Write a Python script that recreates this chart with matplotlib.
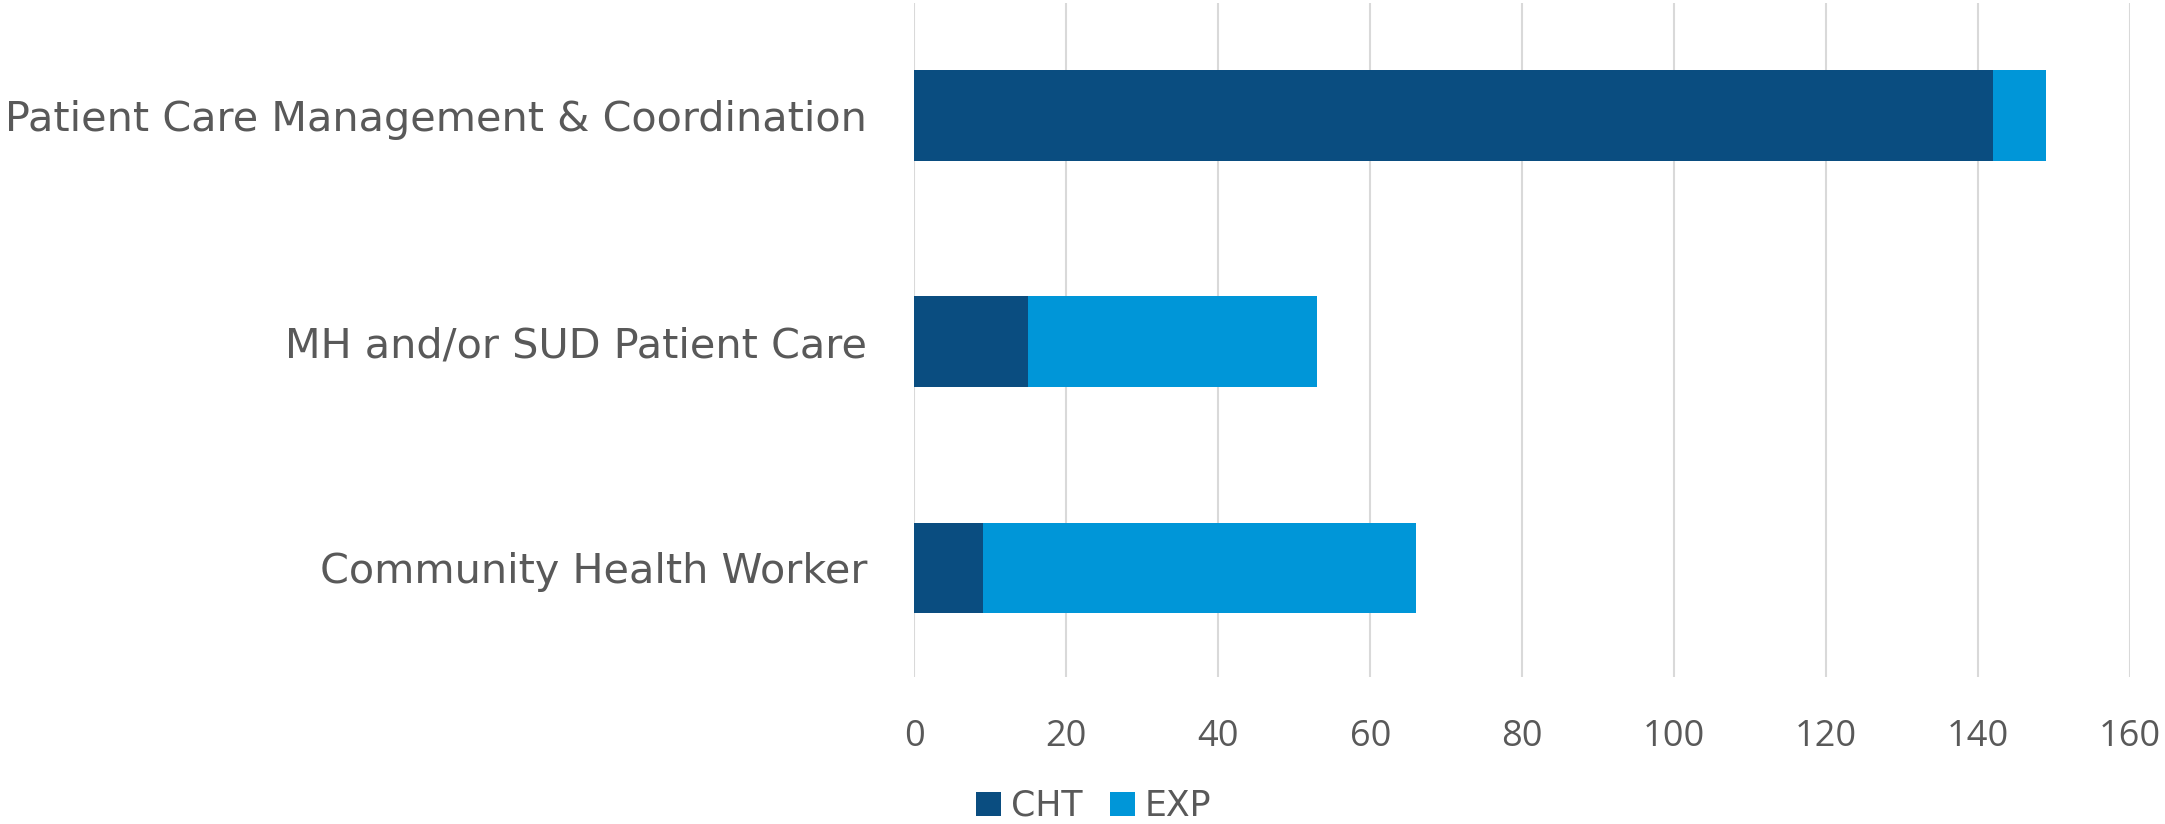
import matplotlib.pyplot as plt
import numpy as np

# data
categories = ['Patient Care Management & Coordination',
              'MH and/or SUD Patient Care',
              'Community Health Worker']
cht = [142, 15, 9]
exp = [7, 38, 57]
xticks = [0, 20, 40, 60, 80, 100, 120, 140, 160]

plt.rcParams['font.family'] = ['Open Sans', 'DejaVu Sans']
txt = '#595959'

fig = plt.figure(figsize=(21.65, 8.24), dpi=100)
ax = fig.add_axes([0.4224, 0.1784, 0.5614, 0.8176])

y = np.arange(len(categories))
ax.barh(y, cht, height=0.4, color='#0a4d80', label='CHT', zorder=3)
ax.barh(y, exp, left=cht, height=0.4, color='#0096d8', label='EXP', zorder=3)

ax.set_xlim(0, 160)
ax.set_ylim(2.482, -0.495)
ax.set_xticks(xticks)
ax.set_yticks(y)
ax.set_yticklabels(categories, family='DejaVu Sans')
ax.grid(axis='x', color='#d9d9d9', linewidth=1.5, zorder=0)
ax.tick_params(axis='x', length=0, pad=30, labelsize=26, labelcolor=txt)
ax.tick_params(axis='y', length=0, pad=34, labelsize=29.8, labelcolor=txt)
for s in ax.spines.values():
    s.set_visible(False)

fig.legend(loc='center', bbox_to_anchor=(1094/2165, 1 - 806/824), ncol=2,
           frameon=False, prop={'family': 'DejaVu Sans', 'size': 25},
           labelcolor=txt, handlelength=0.7, handleheight=0.7,
           handletextpad=0.3, columnspacing=0.8)

fig.savefig('out.png', dpi=100)
